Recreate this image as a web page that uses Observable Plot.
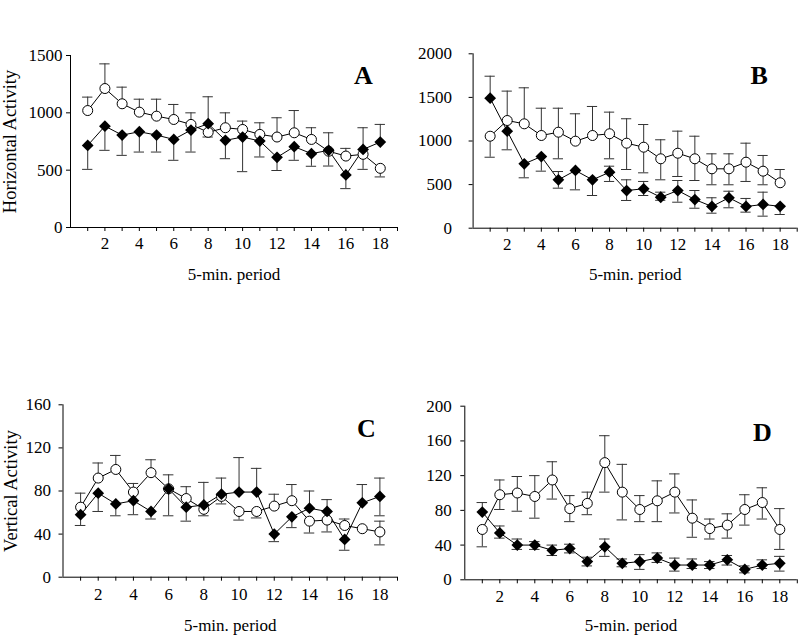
<!DOCTYPE html>
<html><head><meta charset="utf-8">
<script src="https://cdn.jsdelivr.net/npm/d3@7"></script>
<script src="https://cdn.jsdelivr.net/npm/@observablehq/plot@0.6"></script>
<style>
body{margin:0;background:#fff;}
#wrap{position:relative;width:800px;height:636px;background:#fff;font-family:"Liberation Serif","Times New Roman",serif;color:#000;}
.ttl{position:absolute;top:1px;font-size:18px;transform:translateX(-50%);white-space:nowrap;}
.panel{position:absolute;}
</style></head><body>
<div id="wrap">
  <div class="ttl" style="left:200px">Female</div>
  <div class="ttl" style="left:600px">Male</div>
</div>
<script>
const periods = [1,2,3,4,5,6,7,8,9,10,11,12,13,14,15,16,17,18];
const xTicks = [1,2,3,4,5,6,7,8,9,10,11,12,13,14,15,16,17,18,19];

// Panel A: Female, horizontal activity
const aOpen     = [1020,1212,1079,1006,971,942,899,830,870,855,812,789,826,768,665,623,638,516];
const aOpenHi   = [1137,1427,1224,1119,1119,1073,1000,null,1000,928,913,957,1020,870,826,690,null,null];
const aOpenLo   = [null,null,null,null,null,null,null,789,null,null,null,null,null,null,null,null,507,441];
const aFilled   = [716,884,806,835,806,768,850,905,760,789,754,612,705,644,673,458,681,745];
const aFilledHi = [null,null,null,null,null,null,null,1140,null,null,null,null,null,null,null,null,870,899];
const aFilledLo = [507,673,629,658,658,586,658,null,600,487,615,497,586,534,536,339,null,null];

// Panel B: Male, horizontal activity
const bOpen     = [1055,1235,1197,1063,1101,998,1063,1083,975,929,796,860,796,681,681,757,654,521];
const bOpenHi   = [null,1572,1610,1376,1376,1312,1396,1331,1255,1189,1014,1113,1055,853,853,975,834,673];
const bOpenLo   = [814,null,null,null,796,null,null,796,673,635,555,593,547,498,498,536,498,null];
const bFilled   = [1491,1113,738,822,555,662,555,642,432,452,355,432,329,249,349,249,272,251];
const bFilledHi = [1743,null,null,null,650,null,null,711,555,536,413,547,432,349,424,341,413,null];
const bFilledLo = [null,899,578,654,459,440,375,536,318,375,320,298,229,172,234,184,138,157];

// Panel C: Female, vertical activity
const cOpen     = [65,92,100,79,97,82,73,63,75,61,61,66,71,52,53,48,45,42];
const cOpenHi   = [78,106,113,87,109,null,84,null,null,null,null,77,86,null,null,54,null,52];
const cOpenLo   = [null,null,null,null,null,null,null,57,68,53,55,null,null,41,42,null,null,30];
const cFilled   = [58,78,68,71,61,82,65,67,77,79,79,40,56,64,61,35,69,75];
const cFilledHi = [null,null,null,null,null,95,null,88,92,111,101,null,null,80,72,null,86,92];
const cFilledLo = [48,61,57,58,54,57,52,null,null,null,null,33,46,null,null,25,null,57];

// Panel D: Male, vertical activity
const dOpen     = [58,98,100,96,115,82,88,135,101,81,91,101,71,59,63,81,89,58];
const dOpenHi   = [null,115,119,120,136,97,101,166,133,97,114,122,92,70,76,98,106,82];
const dOpenLo   = [38,81,79,71,93,67,75,101,69,67,67,77,49,47,48,63,70,35];
const dFilled   = [78,54,40,40,34,36,21,38,19,21,25,17,17,17,23,12,17,19];
const dFilledHi = [89,62,47,44,40,41,26,47,24,29,31,25,24,21,28,16,23,27];
const dFilledLo = [null,48,35,35,28,31,16,27,15,12,20,10,13,13,17,8,13,10];

const yTicksA = [0,500,1000,1500];
const yTicksB = [0,500,1000,1500,2000];
const yTicksC = [0,40,80,120,160];
const yTicksD = [0,40,80,120,160,200];

const xLabel = "5-min. period";

function makePanel(c) {
  const rows = vals => periods.map((p, i) => ({x: p, y: vals[i]}));
  const errs = (vals, ends) => periods.map((p, i) => ({x: p, y: vals[i], e: ends[i]})).filter(d => d.e != null);
  const openRows = rows(c.open), filledRows = rows(c.filled);
  const errAll = [...errs(c.open, c.openHi), ...errs(c.open, c.openLo), ...errs(c.filled, c.filledHi), ...errs(c.filled, c.filledLo)];
  const yMax = c.yTicks[c.yTicks.length - 1];
  const marks = [
    Plot.ruleX([0], {y1: 0, y2: yMax, stroke: "black"}),
    Plot.ruleY([0], {x1: 0, x2: 19, stroke: "black"}),
    Plot.ruleX(errAll, {x: "x", y1: "y", y2: "e", stroke: "#333", strokeWidth: 1}),
    Plot.ruleY(errAll, {y: "e", x1: d => d.x - 0.3, x2: d => d.x + 0.3, stroke: "#333", strokeWidth: 1}),
    Plot.line(openRows, {x: "x", y: "y", stroke: "black", strokeWidth: 1}),
    Plot.line(filledRows, {x: "x", y: "y", stroke: "black", strokeWidth: 1}),
    Plot.dot(openRows, {x: "x", y: "y", r: 5, fill: "white", stroke: "black", strokeWidth: 1}),
    Plot.dot(filledRows, {x: "x", y: "y", symbol: "diamond2", r: 5.3, fill: "black", stroke: "none"}),
    Plot.text([c.letter], {frameAnchor: "top-right", dx: c.letterDx, dy: c.letterDy, fontSize: 26, fontWeight: "bold", lineAnchor: "middle", textAnchor: "middle"}),
    Plot.text([xLabel], {frameAnchor: "bottom", dy: c.xLabelDy, fontSize: 17, lineAnchor: "middle"})
  ];
  if (c.yLabel) marks.push(Plot.text([c.yLabel], {frameAnchor: "left", dx: c.yLabelDx, rotate: -90, fontSize: 18.5, lineAnchor: "middle", textAnchor: "middle"}));
  const svg = Plot.plot({
    width: 400, height: c.height,
    marginLeft: c.ml, marginRight: c.mr, marginTop: c.mt, marginBottom: c.mb,
    style: {fontFamily: '"Liberation Serif","Times New Roman",serif', fontSize: "17px", color: "black", background: "white", overflow: "visible"},
    x: {domain: [0, 19], ticks: xTicks, tickFormat: d => d % 2 === 0 ? String(d) : "", tickSize: 4, tickPadding: c.xPad, label: null},
    y: {domain: [0, yMax], ticks: c.yTicks, tickFormat: d => String(d), tickSize: 4, tickPadding: c.yPad, label: null},
    marks
  });
  const div = document.createElement("div");
  div.className = "panel";
  div.style.left = c.left + "px";
  div.style.top = c.top + "px";
  div.appendChild(svg);
  document.getElementById("wrap").appendChild(div);
}

makePanel({open: aOpen, openHi: aOpenHi, openLo: aOpenLo, filled: aFilled, filledHi: aFilledHi, filledLo: aFilledLo,
  yTicks: yTicksA, letter: "A", yLabel: "Horizontal Activity", left: 0, top: 0, height: 300,
  ml: 70, mr: 3, mt: 55, mb: 73, xPad: 5, yPad: 4, letterDx: -34, letterDy: 20, xLabelDy: 47, yLabelDx: -60});
makePanel({open: bOpen, openHi: bOpenHi, openLo: bOpenLo, filled: bFilled, filledHi: bFilledHi, filledLo: bFilledLo,
  yTicks: yTicksB, letter: "B", yLabel: null, left: 400, top: 0, height: 300,
  ml: 72.6, mr: 3.3, mt: 53.3, mb: 72.3, xPad: 6, yPad: 17, letterDx: -38, letterDy: 22, xLabelDy: 46, yLabelDx: 0});
makePanel({open: cOpen, openHi: cOpenHi, openLo: cOpenLo, filled: cFilled, filledHi: cFilledHi, filledLo: cFilledLo,
  yTicks: yTicksC, letter: "C", yLabel: "Vertical Activity", left: 0, top: 300, height: 336,
  ml: 62.5, mr: 3, mt: 104.3, mb: 59.3, xPad: 7, yPad: 8, letterDx: -31, letterDy: 24, xLabelDy: 48, yLabelDx: -52});
makePanel({open: dOpen, openHi: dOpenHi, openLo: dOpenLo, filled: dFilled, filledHi: dFilledHi, filledLo: dFilledLo,
  yTicks: yTicksD, letter: "D", yLabel: null, left: 400, top: 300, height: 336,
  ml: 64.3, mr: 3.2, mt: 105.7, mb: 56.7, xPad: 6, yPad: 9, letterDx: -35, letterDy: 26, xLabelDy: 46, yLabelDx: 0});
</script>
</body></html>
